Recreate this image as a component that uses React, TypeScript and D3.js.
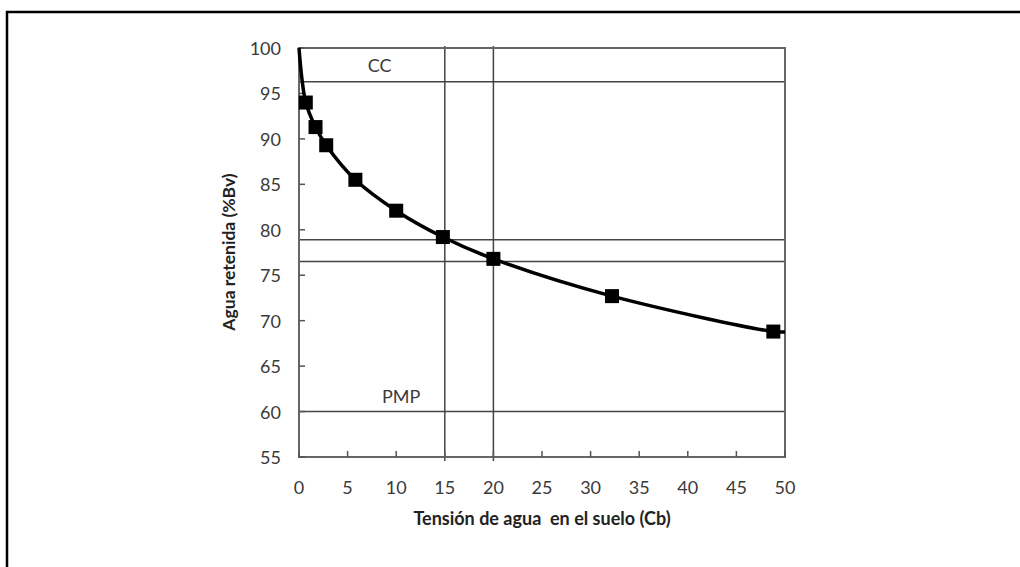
import React from 'react';
import * as d3 from 'd3';

// measured points (squares)
const tension = [0.7, 1.7, 2.8, 5.8, 10, 14.8, 20, 32.2, 48.8];
const agua = [94.0, 91.3, 89.3, 85.5, 82.1, 79.2, 76.8, 72.7, 68.8];
// curve ends (no marker)
const curveStart = [0, 100];
const curveEnd = [50, 68.75];

const hLines = [96.3, 78.9, 76.5, 60];
const vLines = [15, 20];
const xTicks = [0, 5, 10, 15, 20, 25, 30, 35, 40, 45, 50];
const yTicks = [55, 60, 65, 70, 75, 80, 85, 90, 95, 100];
const labels = [
  { text: 'CC', x: 8.3, y: 98.1 },
  { text: 'PMP', x: 10.5, y: 61.7 },
];

const width = 1020;
const height = 567;
const left = 299;
const right = 785;
const top = 48;
const bottom = 457;

const x = d3.scaleLinear().domain([0, 50]).range([left, right]);
const y = d3.scaleLinear().domain([55, 100]).range([bottom, top]);

const font = 'Lato, "Open Sans", sans-serif';
const grey = '#3a3a3a';

const App = () => {
  const pts: [number, number][] = [curveStart as [number, number]]
    .concat(tension.map((t, i) => [t, agua[i]] as [number, number]))
    .concat([curveEnd as [number, number]]);

  const line = d3.line<[number, number]>()
    .x(d => x(d[0]))
    .y(d => y(d[1]))
    .curve(d3.curveCatmullRom.alpha(0.5));

  return (
    <svg width={width} height={height} style={{ position: 'absolute', left: 0, top: 0, background: '#fff' }}>
      <rect x={7} y={12} width={1100} height={700} fill="none" stroke="#000" strokeWidth={2.5} />

      {/* reference lines */}
      {hLines.map(v => (
        <line key={'h' + v} x1={left} x2={right} y1={y(v)} y2={y(v)} stroke="#444" strokeWidth={1.5} />
      ))}
      {vLines.map(v => (
        <line key={'v' + v} x1={x(v)} x2={x(v)} y1={top - 2} y2={bottom + 4} stroke="#444" strokeWidth={1.5} />
      ))}

      {/* plot frame */}
      <rect x={left} y={top} width={right - left} height={bottom - top} fill="none" stroke="#666" strokeWidth={2} />

      {/* ticks */}
      {xTicks.map(t => (
        <g key={'xt' + t}>
          <line x1={x(t)} x2={x(t)} y1={bottom} y2={bottom - 6} stroke="#555" strokeWidth={1.5} />
          <text x={x(t)} y={487} textAnchor="middle" dominantBaseline="central"
            fontFamily={font} fontSize={18} fill={grey}>{t}</text>
        </g>
      ))}
      {yTicks.map(t => (
        <g key={'yt' + t}>
          <line x1={left} x2={left + 6} y1={y(t)} y2={y(t)} stroke="#555" strokeWidth={1.5} />
          <text x={281} y={y(t)} textAnchor="end" dominantBaseline="central"
            fontFamily={font} fontSize={18} fill={grey}>{t}</text>
        </g>
      ))}

      {labels.map(l => (
        <text key={l.text} x={x(l.x)} y={y(l.y)} textAnchor="middle" dominantBaseline="central"
          fontFamily={font} fontSize={18} fill={grey}>{l.text}</text>
      ))}

      {/* curve */}
      <path d={line(pts) || ''} fill="none" stroke="#000" strokeWidth={3.5} />
      {tension.map((t, i) => (
        <rect key={'m' + i} x={x(t) - 7} y={y(agua[i]) - 7} width={14} height={14} fill="#000" />
      ))}

      {/* axis titles */}
      <text x={542} y={518} textAnchor="middle" dominantBaseline="central"
        fontFamily={font} fontWeight="bold" fontSize={18} fill="#222" style={{ whiteSpace: 'pre' }}>
        {'Tensión de agua  en el suelo (Cb)'}
      </text>
      <text transform="translate(228,252) rotate(-90)" textAnchor="middle" dominantBaseline="central"
        fontFamily={font} fontWeight="bold" fontSize={17.5} fill="#222">
        Agua retenida (%Bv)
      </text>
    </svg>
  );
};

export default App;
